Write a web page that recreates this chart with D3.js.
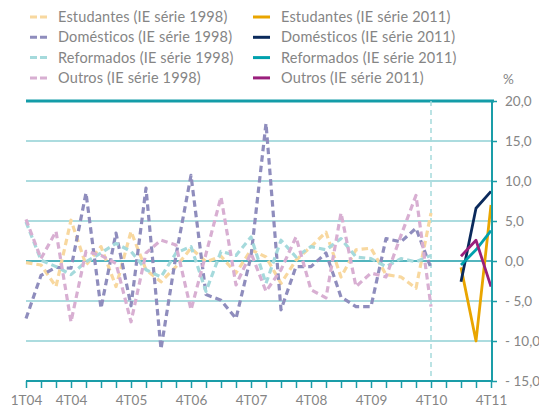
<!DOCTYPE html>
<html>
<head>
<meta charset="utf-8">
<script src="https://cdn.jsdelivr.net/npm/d3@7"></script>
<style>
body { margin: 0; background: #fff; }
text { font-family: Lato, "DejaVu Sans", sans-serif; fill: #858585; }
</style>
</head>
<body>
<div id="chart"></div>
<script>
// quarters 1T04 .. 4T11
var quarters = [];
for (var y = 4; y <= 11; y++) for (var q = 1; q <= 4; q++) quarters.push(q + "T" + (y < 10 ? "0" + y : y));
var tickLabels = ["1T04", "4T04", "4T05", "4T06", "4T07", "4T08", "4T09", "4T10", "4T11"];
var yTicks = [20, 15, 10, 5, 0, -5, -10, -15];

// IE série 1998 : 1T04 .. 4T10
var estudantes98 = [-0.2, -0.5, -3.2, 5.1, -0.5, 1.8, -3.2, 3.7, -1.1, -2.6, -0.7, 1.6, -0.1, 0.6, -1.5, 1.4, 0.5, -2.8, 0.1, 1.8, 3.6, -2.0, 1.4, 1.6, -1.7, -2.0, -3.4, 6.0];
var domesticos98 = [-7.2, -1.8, -0.8, -0.9, 8.5, -5.9, 3.5, -5.6, 9.1, -11.0, 0.7, 10.7, -4.2, -4.9, -7.2, 0.6, 17.2, -6.1, -0.7, -0.7, 1.0, -4.5, -5.7, -5.7, 2.8, 2.4, 4.1, -0.9];
var reformados98 = [4.9, 0.1, -0.7, -1.7, -0.1, 1.0, 2.2, 1.2, -1.1, -2.0, 1.0, 1.8, -3.8, 1.2, 0.7, 3.0, -2.8, 2.6, 0.5, 1.8, 1.4, 2.8, 0.5, 0.3, -0.7, 0.3, -0.1, 0.7];
var outros98 = [5.2, 0.3, 3.7, -7.6, 1.2, 0.7, -0.3, -7.6, 1.0, 2.6, 2.0, -6.1, 0.9, 8.0, -3.0, 1.0, -3.8, -1.1, 3.0, -3.6, -4.6, 6.0, -3.2, -1.5, -2.0, 3.2, 8.2, -5.7];
// IE série 2011 : 2T11 .. 4T11
var estudantes11 = [-0.8, -10.0, 7.0];
var domesticos11 = [-2.6, 6.6, 8.7];
var reformados11 = [-0.5, 1.4, 3.8];
var outros11 = [0.6, 2.6, -3.2];

var series = [
    {name: "Estudantes (IE série 1998)", values: estudantes98, start: 0, color: "#f8d89f", dashed: true},
    {name: "Domésticos (IE série 1998)", values: domesticos98, start: 0, color: "#8f8dbd", dashed: true},
    {name: "Reformados (IE série 1998)", values: reformados98, start: 0, color: "#a5dadc", dashed: true},
    {name: "Outros (IE série 1998)", values: outros98, start: 0, color: "#d8afd2", dashed: true},
    {name: "Estudantes (IE série 2011)", values: estudantes11, start: 29, color: "#e9a500", dashed: false},
    {name: "Domésticos (IE série 2011)", values: domesticos11, start: 29, color: "#0b2a5c", dashed: false},
    {name: "Reformados (IE série 2011)", values: reformados11, start: 29, color: "#00a1ad", dashed: false},
    {name: "Outros (IE série 2011)", values: outros11, start: 29, color: "#9a1f7c", dashed: false}
];

var W = 539, H = 412;
var svg = d3.select("#chart").append("svg").attr("width", W).attr("height", H);

var x = d3.scalePoint().domain(quarters).range([26, 491]);
var yS = d3.scaleLinear().domain([-15, 20]).range([381, 101]);
var left = 26, right = 492;

// gridlines
svg.append("g").selectAll("line").data(yTicks.filter(function(d){ return d != 20 && d != -15 && d != 0; })).enter()
    .append("line").attr("x1", left).attr("x2", right)
    .attr("y1", function(d){ return yS(d); }).attr("y2", function(d){ return yS(d); })
    .attr("stroke", "#90d0d5").attr("stroke-width", 1.5);

svg.append("line").attr("x1", left).attr("x2", right).attr("y1", yS(0)).attr("y2", yS(0))
    .attr("stroke", "#1a9da8").attr("stroke-width", 1.5);
svg.append("line").attr("x1", left).attr("x2", right + 2).attr("y1", yS(20)).attr("y2", yS(20))
    .attr("stroke", "#139ca8").attr("stroke-width", 3);

// vertical dashed separator at 4T10
svg.append("line").attr("x1", x("4T10")).attr("x2", x("4T10")).attr("y1", yS(20)).attr("y2", yS(-15))
    .attr("stroke", "#a5dadc").attr("stroke-width", 1.5).attr("stroke-dasharray", "5,4");

// lines
var line = d3.line().x(function(d){ return x(quarters[d.i]); }).y(function(d){ return yS(d.v); });
svg.append("g").selectAll("path").data(series).enter().append("path")
    .attr("d", function(s){ return line(s.values.map(function(v, k){ return {i: s.start + k, v: v}; })); })
    .attr("fill", "none").attr("stroke", function(s){ return s.color; })
    .attr("stroke-width", function(s){ return s.dashed ? 3.2 : 2.8; })
    .attr("stroke-dasharray", function(s){ return s.dashed ? "6.5,4" : null; })
    .attr("stroke-linejoin", "round");

// bottom axis
var xAxis = d3.axisBottom(x).tickSize(7).tickFormat(function(d){ return tickLabels.indexOf(d) >= 0 ? d : ""; });
var gx = svg.append("g").attr("transform", "translate(0," + yS(-15) + ")").call(xAxis);
gx.select(".domain").attr("d", "M" + left + ",0H" + right).attr("stroke", "#1a9da8").attr("stroke-width", 2);
gx.selectAll(".tick line").attr("stroke", "#1a9da8").attr("stroke-width", 1.5);
gx.selectAll(".tick text").attr("dy", "1.05em").attr("font-size", 13.5).style("fill", "#858585");

// right axis
var yAxis = d3.axisRight(yS).tickValues(yTicks).tickSize(5).tickPadding(8)
    .tickFormat(function(d){ var s = d3.format(".1f")(Math.abs(d)).replace(".", ","); return d < 0 ? "- " + s : s; });
var gy = svg.append("g").attr("transform", "translate(" + right + ",0)").call(yAxis);
gy.select(".domain").attr("d", "M0," + yS(20) + "V" + yS(-15)).attr("stroke", "#1a9da8").attr("stroke-width", 2);
gy.selectAll(".tick line").attr("stroke", "#1a9da8").attr("stroke-width", 1.5);
gy.selectAll(".tick text").attr("font-size", 13.5).style("fill", "#858585");

svg.append("text").attr("x", 503).attr("y", 84).attr("font-size", 13.5).text("%");

// legend
var leg = svg.append("g").selectAll("g").data(series).enter().append("g")
    .attr("transform", function(s, i){ return "translate(" + (i < 4 ? 30 : 253) + "," + (17 + (i % 4) * 20.3) + ")"; });
leg.append("line").attr("x1", 0).attr("x2", 17).attr("y1", 0).attr("y2", 0)
    .attr("stroke", function(s){ return s.color; }).attr("stroke-width", 3)
    .attr("stroke-dasharray", function(s){ return s.dashed ? "7,3" : null; });
leg.append("text").attr("x", 28).attr("y", 0).attr("dy", "0.35em").attr("font-size", 14.5)
    .attr("letter-spacing", 0.15)
    .text(function(s){ return s.name; });
</script>
</body>
</html>
